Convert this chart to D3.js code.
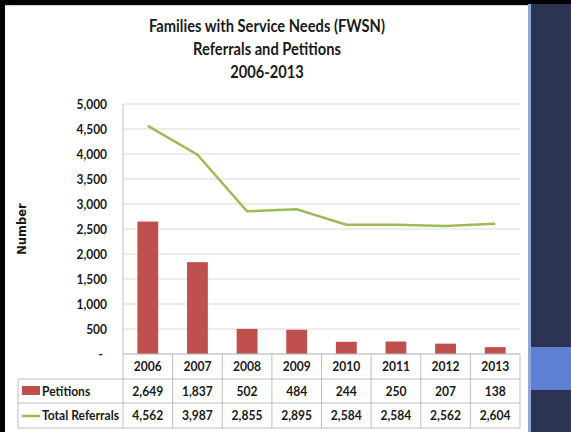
<!DOCTYPE html>
<html><head><meta charset="utf-8">
<script src="https://cdn.jsdelivr.net/npm/d3@7"></script>
<style>html,body{margin:0;padding:0;background:#fff;}svg{display:block;}</style>
</head><body>
<script>
const years = ["2006","2007","2008","2009","2010","2011","2012","2013"];
const petitions = [2649,1837,502,484,244,250,207,138];
const referrals = [4562,3987,2855,2895,2584,2584,2562,2604];
const yTicks = [0,500,1000,1500,2000,2500,3000,3500,4000,4500,5000];
const titleLines = ["Families with Service Needs (FWSN)","Referrals and Petitions","2006-2013"];
const seriesNames = ["Petitions","Total Referrals"];

const W=571,H=432;
const svg=d3.select("body").append("svg").attr("width",W).attr("height",H);
const FONT="Lato, 'Open Sans', sans-serif";

// horizontally condense text to mimic the narrower original face
function condense(sel,k){
  sel.each(function(){
    const w=this.getComputedTextLength();
    d3.select(this).attr("textLength",w*k).attr("lengthAdjust","spacingAndGlyphs");
  });
}

// frame
svg.append("rect").attr("x",0).attr("y",0).attr("width",W).attr("height",H).attr("fill","#000");
svg.append("rect").attr("x",5).attr("y",5).attr("width",523).attr("height",H-5).attr("fill","#fff");
svg.append("rect").attr("x",5).attr("y",5).attr("width",523).attr("height",1).attr("fill","#c8d6ea");
svg.append("rect").attr("x",528).attr("y",4).attr("width",3).attr("height",H-4).attr("fill","#8ea9d6");
svg.append("rect").attr("x",531).attr("y",4).attr("width",40).attr("height",H-4).attr("fill","#2c3353");
svg.append("rect").attr("x",531).attr("y",347).attr("width",40).attr("height",43).attr("fill","#5f7fd3");

// title
const tt=svg.append("g").selectAll("text").data(titleLines).join("text")
  .attr("x",267).attr("y",(d,i)=>32+i*23)
  .attr("text-anchor","middle").attr("font-family",FONT).attr("font-weight","bold")
  .attr("font-size",16.5).attr("fill","#1a1a1a").text(d=>d);
condense(tt,0.89);

const L=123,R=520,T=104,B=354;
const x=d3.scaleBand().domain(years).range([L,R]).padding(0);
const y=d3.scaleLinear().domain([0,5000]).range([B,T]);

// gridlines
svg.append("g").selectAll("line").data(yTicks).join("line")
  .attr("x1",L).attr("x2",R).attr("y1",d=>y(d)).attr("y2",d=>y(d))
  .attr("stroke","#d9d9d9").attr("stroke-width",1);
svg.append("line").attr("x1",L).attr("x2",L).attr("y1",T).attr("y2",B).attr("stroke","#bfbfbf");

// y axis labels
const yAxis=d3.axisLeft(y).tickValues(yTicks).tickSize(0).tickPadding(0)
  .tickFormat(d=>d===0?"-":d3.format(",")(d));
const ga=svg.append("g").attr("transform",`translate(107,0)`).call(yAxis);
ga.select(".domain").remove();
ga.selectAll("text").attr("font-family",FONT).attr("font-weight","bold").attr("font-size",13).attr("fill","#1a1a1a")
  .attr("dx",d=>d===0?-4:0);
condense(ga.selectAll("text"),0.92);

svg.append("text").attr("transform","translate(26,229) rotate(-90)")
  .attr("text-anchor","middle").attr("font-family","'DejaVu Sans', sans-serif").attr("font-weight","bold")
  .attr("font-size",11.5).attr("fill","#1a1a1a").text("Number");

// bars
const bw=x.bandwidth()*0.42;
svg.append("g").selectAll("rect").data(petitions).join("rect")
  .attr("x",(d,i)=>x(years[i])+x.bandwidth()/2-bw/2).attr("width",bw)
  .attr("y",d=>y(d)).attr("height",d=>B-y(d)).attr("fill","#c0504d");

// line
const line=d3.line().x((d,i)=>x(years[i])+x.bandwidth()/2).y(d=>y(d));
svg.append("path").datum(referrals).attr("d",line).attr("fill","none")
  .attr("stroke","#9bbb59").attr("stroke-width",2.5);

// data table
const rowY=[354,379,403,428];
const TL=18;
const tg=svg.append("g");
tg.append("line").attr("x1",L).attr("x2",R).attr("y1",rowY[0]).attr("y2",rowY[0]).attr("stroke","#bfbfbf");
[1,2,3].forEach(k=>tg.append("line").attr("x1",TL).attr("x2",R).attr("y1",rowY[k]).attr("y2",rowY[k]).attr("stroke","#bfbfbf"));
tg.append("line").attr("x1",TL).attr("x2",TL).attr("y1",rowY[1]).attr("y2",rowY[3]).attr("stroke","#bfbfbf");
const bounds=years.map(d=>x(d)).concat([R]);
tg.selectAll(".v").data(bounds).join("line").attr("class","v")
  .attr("x1",d=>d).attr("x2",d=>d).attr("y1",rowY[0]).attr("y2",rowY[3]).attr("stroke","#bfbfbf");

const tx=(t,xx,yy,anchor)=>tg.append("text").attr("x",xx).attr("y",yy).attr("text-anchor",anchor||"middle")
  .attr("font-family",FONT).attr("font-weight","bold").attr("font-size",13).attr("fill","#1a1a1a").text(t);
const fmt=d3.format(",");
years.forEach((yr,i)=>{
  const cx=x(yr)+x.bandwidth()/2;
  tx(yr,cx,371);
  tx(fmt(petitions[i]),cx,396);
  tx(fmt(referrals[i]),cx,420);
});
// legend keys
tg.append("rect").attr("x",22).attr("y",386).attr("width",18).attr("height",9).attr("fill","#c0504d");
tg.append("line").attr("x1",22).attr("x2",40).attr("y1",416).attr("y2",416).attr("stroke","#9bbb59").attr("stroke-width",2.5);
tx(seriesNames[0],42,396,"start");
tx(seriesNames[1],42,420,"start");
condense(tg.selectAll("text"),0.93);
</script>
</body></html>
